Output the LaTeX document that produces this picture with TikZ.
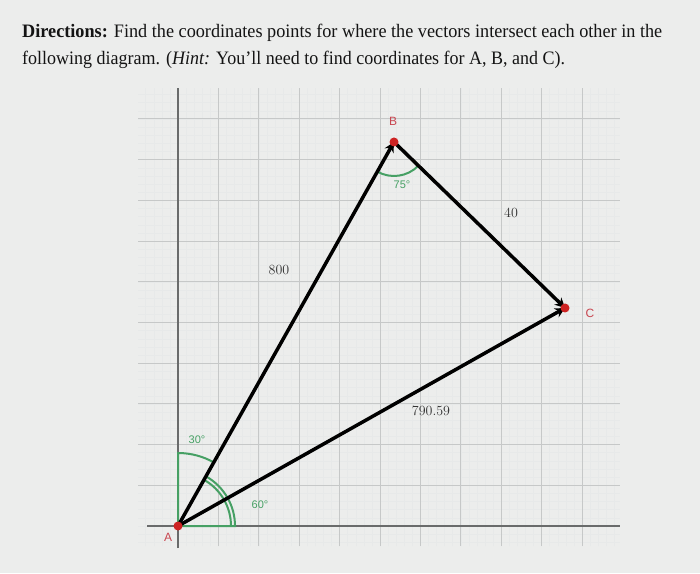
\documentclass[tikz,border=0pt]{standalone}
\usepackage{fontspec}
\setmainfont{Liberation Serif}
\setsansfont{Liberation Sans}
\newfontfamily\cmfont{Latin Modern Roman}
\usetikzlibrary{arrows.meta,calc}
\definecolor{bg}{RGB}{236,237,236}
\definecolor{majgrid}{RGB}{198,200,200}
\definecolor{mingrid}{RGB}{231,233,233}
\definecolor{axisc}{RGB}{105,107,107}
\definecolor{anggreen}{RGB}{70,160,100}
\definecolor{ptred}{RGB}{205,35,35}
\definecolor{lblred}{RGB}{200,70,80}
\definecolor{valc}{RGB}{50,50,50}
\definecolor{txtc}{RGB}{20,20,20}
\begin{document}
\begin{tikzpicture}[x=1pt,y=1pt,
  vec/.style={line width=3.5pt, black, -{Stealth[length=10pt,width=10pt]}},
  ang/.style={anggreen, line width=2pt},
  dot/.style={circle, fill=ptred, inner sep=0pt, minimum size=9pt},
  ptlbl/.style={text=lblred, font=\sffamily\fontsize{12}{12}\selectfont, inner sep=0pt},
  anglbl/.style={text=anggreen, font=\sffamily\fontsize{11}{11}\selectfont, inner sep=0pt},
  vallbl/.style={text=valc, font=\cmfont\fontsize{14}{14}\selectfont, inner sep=0pt},
  titleline/.style={anchor=base west, inner sep=0pt, text=txtc}]
\fill[bg] (0,0) rectangle (700,573);
\useasboundingbox (0,0) rectangle (700,573);
% minor grid
\foreach \i in {-4,...,54}{
  \draw[mingrid, line width=0.5pt] ({178+8.08*\i},27) -- ({178+8.08*\i},485);
}
\foreach \j in {-2,...,53}{
  \draw[mingrid, line width=0.5pt] (138,{47+8.14*\j}) -- (620,{47+8.14*\j});
}
% major grid
\foreach \k in {1,...,10}{
  \draw[majgrid, line width=1pt] ({178+40.4*\k},27) -- ({178+40.4*\k},485);
  \draw[majgrid, line width=1pt] (138,{47+40.7*\k}) -- (620,{47+40.7*\k});
}
% axes
\draw[axisc, line width=1.1pt] (147,47) -- (620,47);
\draw[axisc, line width=1.1pt] (178,25) -- (178,485);
% points
\coordinate (A) at (178,47);
\coordinate (B) at (394,431);
\coordinate (C) at (565,265);
% angles
\draw[ang] (A) -- ++(0,73) arc[start angle=90, end angle=60, radius=73];
\draw[ang] (A) -- ++(57,0) arc[start angle=0, end angle=60, radius=57];
\draw[ang] ($(A)+(53,0)$) arc[start angle=0, end angle=60, radius=53];
\draw[ang] ($(B)+(240.6:34)$) arc[start angle=240.6, end angle=315.8, radius=34];
% vectors
\draw[vec] (A) -- (B);
\draw[vec] (B) -- (C);
\draw[vec] (A) -- (C);
% dots
\node[dot] (dA) at (A) {};
\node[dot] (dB) at (B) {};
\node[dot] (dC) at (C) {};
% point labels
\node[ptlbl] (lA) at (168,36) {A};
\node[ptlbl] (lB) at (393,452) {B};
\node[ptlbl] (lC) at (590,260) {C};
% angle labels
\node[anglbl] (l30) at (197,133) {30°};
\node[anglbl] (l60) at (260,68) {60°};
\node[anglbl] (l75) at (402,388) {75°};
% values
\node[vallbl] (v800) at (279,303) {800};
\node[vallbl] (v40) at (511,360) {40};
\node[vallbl] (v790) at (431,162) {790.59};
% title
\node[titleline] (t1) at (22,535) {\resizebox{640pt}{\height}{\fontsize{19}{19}\selectfont\textbf{Directions:} Find the coordinates points for where the vectors intersect each other in the}};
\node[titleline] (t2) at (22,508) {\resizebox{543pt}{\height}{\fontsize{19}{19}\selectfont following diagram. (\textit{Hint:} You’ll need to find coordinates for A, B, and C).}};
\end{tikzpicture}
\end{document}
